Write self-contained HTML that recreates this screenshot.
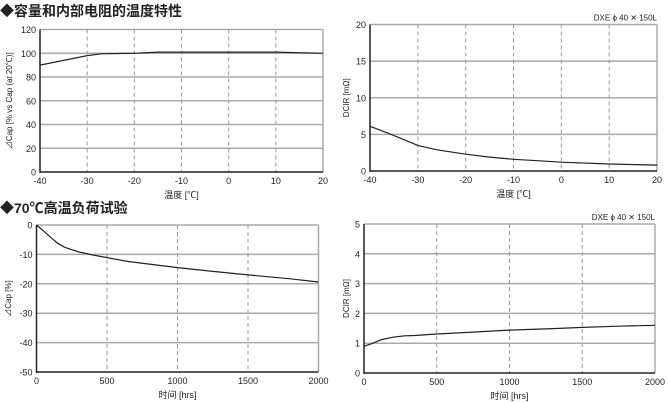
<!DOCTYPE html>
<html><head><meta charset="utf-8"><style>
body{margin:0;background:#fff;width:668px;height:402px;overflow:hidden}
svg{display:block}
text{font-family:"Liberation Sans","Noto Sans CJK SC",sans-serif;fill:#222}
</style></head><body>
<svg id="s" width="668" height="402" xmlns="http://www.w3.org/2000/svg">
<text x="0" y="16" font-size="14" font-weight="bold" fill="#111">◆容量和内部电阻的温度特性</text>
<text x="0" y="213" font-size="14" font-weight="bold" fill="#111">◆70℃高温负荷试验</text>
</svg>
<script>
var s=document.getElementById('s'),NS='http://www.w3.org/2000/svg';
function el(t,a,txt){var e=document.createElementNS(NS,t);for(var k in a)e.setAttribute(k,a[k]);if(txt!=null)e.textContent=txt;s.appendChild(e);return e;}
function chart(c){
 var X=function(v){return c.x0+(v-c.xmin)/(c.xmax-c.xmin)*(c.x1-c.x0)};
 var Y=function(v){return c.y0+(v-c.ymin)/(c.ymax-c.ymin)*(c.y1-c.y0)};
 for(var v=c.ymin;v<=c.ymax+1e-9;v+=c.ys){var y=Y(v);
  if(v>c.ymin)el('line',{x1:c.x0,x2:c.x1,y1:y,y2:y,stroke:'#aaa','stroke-width':1.5});
  el('text',{x:c.x0-4,y:y+3.5,'font-size':9,'text-anchor':'end'},v);}
 for(var v=c.xmin;v<=c.xmax+1e-9;v+=c.xs){var x=X(v);
  if(v>c.xmin&&v<c.xmax)el('line',{x1:x,x2:x,y1:c.y1,y2:c.y0,stroke:'#999','stroke-dasharray':'4,3','stroke-width':1});
  el('text',{x:x,y:c.y0+12,'font-size':9,'text-anchor':'middle'},v);}
 el('line',{x1:c.x1,x2:c.x1,y1:c.y1,y2:c.y0,stroke:'#aaa','stroke-width':1.5});
 el('line',{x1:c.x0,x2:c.x0,y1:c.y1,y2:c.y0+1,stroke:'#222','stroke-width':1.5});
 el('line',{x1:c.x0,x2:c.x1,y1:c.y0,y2:c.y0,stroke:'#222','stroke-width':1.5});
 var d=c.pts.map(function(p,i){return (i?'L':'M')+X(p[0]).toFixed(1)+' '+Y(p[1]).toFixed(1)}).join(' ');
 el('path',{d:d,fill:'none',stroke:'#222','stroke-width':1.2});
 el('text',{x:(c.x0+c.x1)/2,y:c.y0+26,'font-size':9,'text-anchor':'middle'},c.xl);
 var cy=(c.y0+c.y1)/2;el('text',{x:c.ylx,y:cy,'font-size':8,'text-anchor':'middle',transform:'rotate(-90 '+c.ylx+' '+cy+')'},c.yl);
 if(c.tag)el('text',{x:c.x1,y:c.y1-4,'font-size':8,'text-anchor':'end'},c.tag);
}
chart({x0:40,x1:323,y0:172,y1:29.5,xmin:-40,xmax:20,xs:10,ymin:0,ymax:120,ys:20,xl:'温度 [℃]',yl:'⊿Cap [% vs Cap (at 20℃)]',ylx:12,
 pts:[[-40,90],[-35,94],[-30,98],[-27,99.5],[-20,100],[-15,101],[-10,101],[0,101],[10,101],[15,100.5],[20,100]]});
chart({x0:370,x1:657,y0:171,y1:24.5,xmin:-40,xmax:20,xs:10,ymin:0,ymax:20,ys:5,xl:'温度 [℃]',yl:'DCIR [mΩ]',ylx:349,tag:'DXE ϕ 40 ✕ 150L',
 pts:[[-40,6.1],[-36,5.1],[-30,3.5],[-26,2.9],[-20,2.3],[-15,1.9],[-10,1.6],[-5,1.4],[0,1.2],[10,0.95],[20,0.8]]});
chart({x0:36.5,x1:318.5,y0:372,y1:225,xmin:0,xmax:2000,xs:500,ymin:-50,ymax:0,ys:10,xl:'时间 [hrs]',yl:'⊿Cap [%]',ylx:11,
 pts:[[0,0],[50,-2],[100,-4.2],[150,-6.2],[200,-7.6],[300,-9.2],[400,-10.2],[500,-11.1],[650,-12.4],[800,-13.3],[1000,-14.5],[1200,-15.5],[1400,-16.5],[1600,-17.4],[1800,-18.3],[2000,-19.4]]});
chart({x0:364,x1:655,y0:373,y1:224,xmin:0,xmax:2000,xs:500,ymin:0,ymax:5,ys:1,xl:'时间 [hrs]',yl:'DCIR [mΩ]',ylx:349,tag:'DXE ϕ 40 ✕ 150L',
 pts:[[0,0.9],[50,0.98],[120,1.12],[200,1.2],[280,1.25],[350,1.26],[500,1.31],[700,1.36],[1000,1.44],[1300,1.49],[1500,1.53],[1750,1.57],[2000,1.6]]});
</script>
</body></html>
